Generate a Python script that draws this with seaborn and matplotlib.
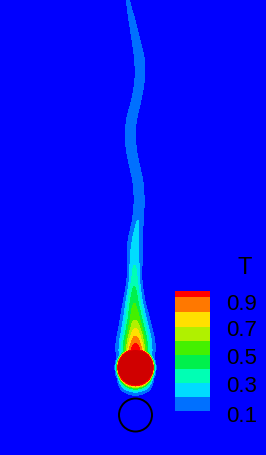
import numpy as np
import matplotlib
matplotlib.use("Agg")
import matplotlib.pyplot as plt
from matplotlib.colors import ListedColormap, BoundaryNorm
from matplotlib.patches import Circle, Rectangle
import seaborn as sns

# ---------------- data (pixel frame, y downward) ----------------
levels = [0.1, 0.2, 0.3, 0.4, 0.5, 0.6, 0.7, 0.8, 0.9, 1.0001]
level_colors = ["#0070ff", "#00dcff", "#00ffb4", "#00f04c", "#44f000",
                "#b0f000", "#ffe000", "#ff7800", "#ff0000"]
background_color = "#0000ff"
body_color = "#d00000"

legend_title = "T"
legend_labels = ["0.9", "0.7", "0.5", "0.3", "0.1"]
legend_label_y = [304, 331, 359, 387, 416]
legend_band_edges = [411, 397, 383, 369, 355, 341, 327, 312, 297, 291]

# plume centreline, spread and peak temperature along height
plume_y = [0, 20, 40, 60, 80, 100, 120, 140, 160, 180, 200, 220, 240, 260, 280,
           300, 320, 330, 340, 350, 360, 370, 380]
plume_xc = [127.5, 132, 136, 140, 140, 136.5, 131, 130, 133, 138, 139.5, 138, 135, 134.5, 134.5,
            134, 135, 135.5, 135.5, 135.5, 135.5, 135.5, 135.5]
plume_sigma = [2.9, 4.4, 5.8, 7.3, 6.8, 6.8, 7.3, 7.3, 7.3, 7.3, 6.8, 6.4, 7.9, 7.4, 6.4,
               8.4, 11.2, 12.1, 13.3, 13.0, 13.0, 13.0, 13.0]
plume_peak = [0.13, 0.16, 0.16, 0.16, 0.16, 0.16, 0.16, 0.16, 0.16, 0.16, 0.17, 0.2, 0.23, 0.28, 0.36,
              0.48, 0.6, 0.72, 0.85, 1.0, 0.6, 0.3, 0.0]

# heated cylinder and thermal-layer thickness around it (angle from top, degrees)
hot_center = (135.5, 367.5)
hot_radius = 17.5
layer_theta = [0, 60, 90, 120, 150, 180]
layer_delta = [3.0, 1.5, 1.3, 1.6, 4.0, 4.5]

# unheated cylinder (outline only)
cold_center = (135.5, 415.0)
cold_radius = 16.5

# ---------------- field ----------------
W, H = 266, 455
step = 0.5
xs = np.arange(0, W + step, step)
ys = np.arange(0, H + step, step)
X, Y = np.meshgrid(xs, ys)


def smooth(v, width_px=6.0):
    n = int(3 * width_px / step)
    k = np.exp(-0.5 * (np.arange(-n, n + 1) * step / width_px) ** 2)
    k /= k.sum()
    vp = np.pad(v, n, mode="edge")
    return np.convolve(vp, k, mode="valid")


yc = ys
xc = smooth(np.interp(yc, plume_y, plume_xc))[:, None]
sg = smooth(np.interp(yc, plume_y, plume_sigma), 4.0)[:, None]
pk = np.interp(yc, plume_y, plume_peak, right=0.0)[:, None]
T_plume = pk * np.exp(-((X - xc) / sg) ** 2)

dx = X - hot_center[0]
dy = Y - hot_center[1]
r = np.hypot(dx, dy)
theta = np.degrees(np.arctan2(np.abs(dx), -dy))
delta = np.interp(theta, layer_theta, layer_delta)
T_disk = np.exp(-np.clip(r - hot_radius, 0, None) / delta)

T = np.maximum(T_plume, T_disk)

# ---------------- drawing ----------------
sns.set_theme(style="white")
plt.rcParams["font.family"] = ["Liberation Sans", "DejaVu Sans"]

pal = sns.color_palette(level_colors)
cmap = ListedColormap(pal)
norm = BoundaryNorm(levels, cmap.N)

fig = plt.figure(figsize=(W / 100, H / 100), dpi=100)
ax = fig.add_axes([0, 0, 1, 1])
ax.set_facecolor(background_color)
ax.contourf(X, Y, T, levels=levels, cmap=cmap, norm=norm, antialiased=False)
ax.add_patch(Circle(hot_center, hot_radius, facecolor=body_color, edgecolor="none", zorder=3))
ax.add_patch(Circle(cold_center, cold_radius, facecolor="none", edgecolor="black", lw=1.4, zorder=3))

# legend
bx0, bx1 = 175, 210
for i in range(len(legend_band_edges) - 1):
    y0, y1 = legend_band_edges[i], legend_band_edges[i + 1]
    ax.add_patch(Rectangle((bx0, y1), bx1 - bx0, y0 - y1, facecolor=pal[i], edgecolor="none", zorder=4))
for lab, ly in zip(legend_labels, legend_label_y):
    ax.text(226.5, ly, lab, fontsize=16, color="black", ha="left", va="center", zorder=5)
ax.text(244.5, 268, legend_title, fontsize=17, color="black", ha="center", va="center", zorder=5)

ax.set_xlim(0, W)
ax.set_ylim(H, 0)
ax.axis("off")
fig.savefig("out.png", dpi=100, facecolor=background_color)
